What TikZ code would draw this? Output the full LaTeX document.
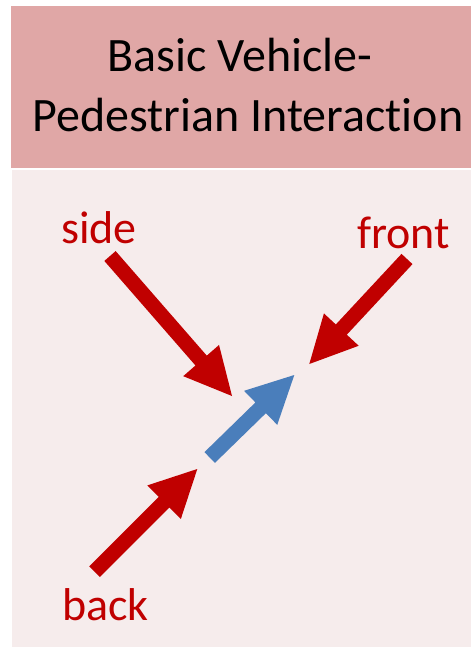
\documentclass[tikz,border=0pt]{standalone}
\usepackage{fontspec}
\setmainfont{Carlito}[Ligatures=NoCommon]
\usetikzlibrary{calc}
\definecolor{headpink}{RGB}{224,167,166}
\definecolor{bodypink}{RGB}{246,236,236}
\definecolor{arrowred}{RGB}{192,0,0}
\definecolor{arrowblue}{RGB}{74,126,187}
\tikzset{title text/.style={inner sep=0pt, anchor=base, font=\fontsize{48}{56}\selectfont}}
\tikzset{dir label/.style={inner sep=0pt, anchor=base west, text=arrowred, font=\fontsize{46}{52}\selectfont}}
% block arrow from #1 to #2, filled with #3
\newcommand{\blockarrow}[3]{%
  \coordinate (#1-base) at ($(#2)!47pt!(#1)$);
  \fill[#3] ($(#1)!7.5pt!90:(#2)$) -- ($(#1-base)!7.5pt!90:(#2)$)
    -- ($(#1-base)!23.75pt!90:(#2)$) -- (#2)
    -- ($(#1-base)!23.75pt!-90:(#2)$) -- ($(#1-base)!7.5pt!-90:(#2)$)
    -- ($(#1)!7.5pt!-90:(#2)$) -- cycle;
}

\begin{document}
\begin{tikzpicture}[x=1pt,y=-1pt]
\useasboundingbox (0,0) rectangle (471,647);
\fill[white] (0,0) rectangle (471,647);
\fill[headpink] (11,6) rectangle (471,168.5);
\fill[bodypink] (12,170) rectangle (471,647);

\node[title text] (title1) at (240,72) {Basic Vehicle-};
\node[title text] (title2) at (248,132) {Pedestrian Interaction};

\node[dir label] (side) at (61,243) {side};
\node[dir label] (front) at (357,248) {front};
\node[dir label] (back) at (62,620) {back};

\coordinate (sideTail) at (110,256);
\coordinate (sideTip) at (232,396);
\coordinate (frontTail) at (407,259);
\coordinate (frontTip) at (309.3,364);
\coordinate (backTail) at (94.5,571.7);
\coordinate (backTip) at (197.3,469);
\coordinate (pedTail) at (209.7,457.5);
\coordinate (pedTip) at (294.3,375);

\blockarrow{sideTail}{sideTip}{arrowred}
\blockarrow{frontTail}{frontTip}{arrowred}
\blockarrow{backTail}{backTip}{arrowred}
\blockarrow{pedTail}{pedTip}{arrowblue}
\end{tikzpicture}
\end{document}
